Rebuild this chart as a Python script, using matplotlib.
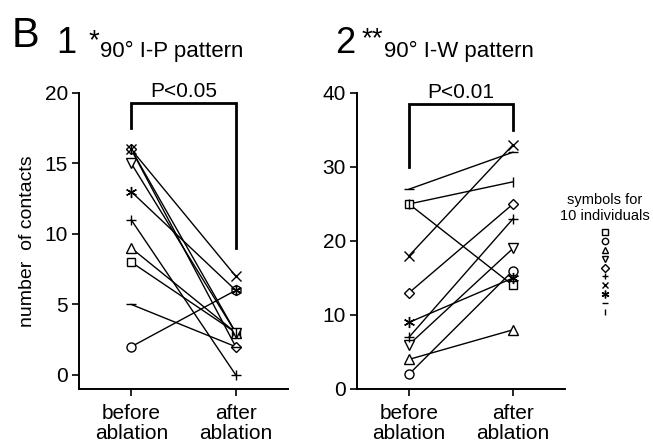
import matplotlib

matplotlib.use('Agg')

import matplotlib.pyplot as plt

plt.rcParams['font.family'] = ['Liberation Sans', 'DejaVu Sans']

# symbols for the 10 individuals, same order in both panels
MARKERS = ['s', 'o', '^', 'v', 'D', '+', 'x', (6, 2, 0), '_', '|']
MARKER_SIZES = [6, 6.5, 7, 7, 5.5, 7, 7, 8, 7, 7]

CONDITIONS = ['before\nablation', 'after\nablation']

# panel 1: 90 deg I-P pattern
ip_before = [8, 2, 9, 15, 16, 11, 16, 13, 5, 16]
ip_after = [3, 6, 3, 3, 2, 0, 7, 6, 2, 3]
ip_ticks = [0, 5, 10, 15, 20]

# panel 2: 90 deg I-W pattern
iw_before = [25, 2, 4, 6, 13, 7, 18, 9, 27, 25]
iw_after = [14, 16, 8, 19, 25, 23, 33, 15, 32, 28]
iw_ticks = [0, 10, 20, 30, 40]

W, H = 653, 446


def fx(px):
    return px / W


def fy(py):
    return 1 - py / H


def draw_panel(ax, before, after, yticks, ylim, bracket, p_text):
    for b, a, m, ms in zip(before, after, MARKERS, MARKER_SIZES):
        ax.plot([0, 1], [b, a], color='black', linewidth=1.0, zorder=2)
        ax.plot([0, 1], [b, a], linestyle='none', marker=m, markersize=ms,
                markerfacecolor='white', markeredgecolor='black',
                markeredgewidth=1.0, zorder=3)

    ax.set_xlim(-0.5, 1.5)
    ax.set_ylim(*ylim)
    ax.set_yticks(yticks)
    ax.set_xticks([0, 1])
    ax.set_xticklabels(CONDITIONS, fontsize=15, linespacing=1.05)
    ax.tick_params(axis='y', labelsize=15, direction='out', length=5, width=1.2, pad=3)
    ax.tick_params(axis='x', direction='out', length=5, width=1.2, pad=6)
    for side in ('top', 'right'):
        ax.spines[side].set_visible(False)
    for side in ('left', 'bottom'):
        ax.spines[side].set_linewidth(1.4)

    left_low, top, right_low = bracket
    ax.plot([0, 0, 1, 1], [left_low, top, top, right_low], color='black',
            linewidth=2.0, clip_on=False, solid_joinstyle='miter')
    ax.text(0.5, top + (ylim[1] - ylim[0]) * 0.02, p_text, ha='center',
            va='baseline', fontsize=15)


fig = plt.figure(figsize=(W / 100, H / 100), dpi=100)

ax1 = fig.add_axes([fx(79), fy(389), fx(288) - fx(79), fy(93) - fy(389)])
draw_panel(ax1, ip_before, ip_after, ip_ticks, (-1, 20), (17.5, 19.3, 9.0), 'P<0.05')
ax1.set_ylabel('number  of contacts', fontsize=14, labelpad=6)

ax2 = fig.add_axes([fx(357), fy(389), fx(565) - fx(357), fy(93) - fy(389)])
draw_panel(ax2, iw_before, iw_after, iw_ticks, (0, 40), (30.0, 38.5, 35.0), 'P<0.01')

# panel titles
fig.text(fx(12), fy(47), 'B', fontsize=30, va='baseline')
fig.text(fx(56), fy(53), '1', fontsize=26, va='baseline')
fig.text(fx(89), fy(48), '*', fontsize=20, va='baseline')
fig.text(fx(100), fy(57), '90° I-P pattern', fontsize=16, va='baseline')
fig.text(fx(335), fy(53), '2', fontsize=26, va='baseline')
fig.text(fx(362), fy(46), '**', fontsize=20, va='baseline')
fig.text(fx(384), fy(57), '90° I-W pattern', fontsize=16, va='baseline')

# symbol key
fig.text(fx(605), fy(208), 'symbols for\n10 individuals', fontsize=10.5,
         ha='center', va='center', linespacing=1.1)
key_ax = fig.add_axes([fx(595), fy(316), fx(615) - fx(595), fy(228) - fy(316)])
for i, (m, ms) in enumerate(zip(MARKERS, MARKER_SIZES)):
    key_ax.plot([0], [i], linestyle='none', marker=m, markersize=ms * 0.7,
                markerfacecolor='white', markeredgecolor='black', markeredgewidth=1.0)
key_ax.set_xlim(-1, 1)
key_ax.set_ylim(len(MARKERS) - 0.5, -0.5)
key_ax.axis('off')

fig.savefig('out.png', dpi=100)
